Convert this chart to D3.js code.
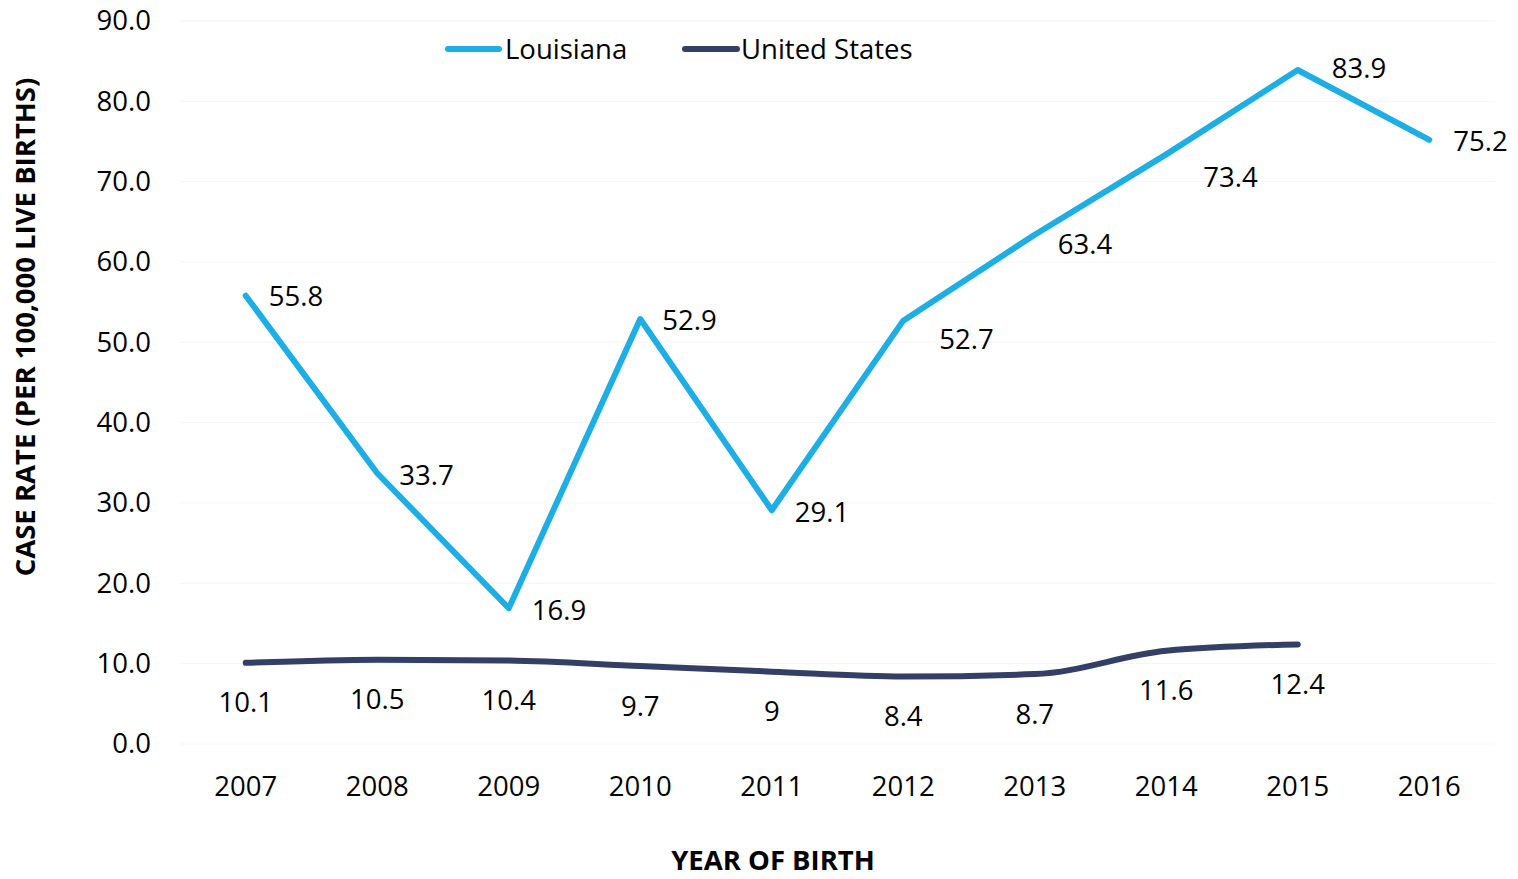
<!DOCTYPE html>
<html>
<head>
<meta charset="utf-8">
<script src="https://cdn.jsdelivr.net/npm/d3@7"></script>
<style>
  html, body { margin: 0; padding: 0; background: #fff; }
  svg text { font-family: "Open Sans", "Noto Sans", sans-serif; fill: #000; }
</style>
</head>
<body>
<svg id="chart" width="1518" height="879"></svg>
<script>
// Congenital syphilis case rates per 100,000 live births
const years = ["2007", "2008", "2009", "2010", "2011", "2012", "2013", "2014", "2015", "2016"];
const louisiana = [55.8, 33.7, 16.9, 52.9, 29.1, 52.7, 63.4, 73.4, 83.9, 75.2];
const unitedStates = [10.1, 10.5, 10.4, 9.7, 9.0, 8.4, 8.7, 11.6, 12.4];
const usLabels = ["10.1", "10.5", "10.4", "9.7", "9", "8.4", "8.7", "11.6", "12.4"];
const yTicks = [0, 10, 20, 30, 40, 50, 60, 70, 80, 90];
const seriesNames = ["Louisiana", "United States"];
const colors = { "Louisiana": "#1eaee3", "United States": "#343f66" };

// Offsets of the Louisiana value labels relative to their points [dx, dy]
const laLabelOffsets = [[23, 1], [22, 2], [23, 2], [22, 1], [23, 2], [36, 19], [23, 10], [37, 23], [34, -2], [24, 1]];

const FS = 27.5;
const svg = d3.select("#chart");
const margin = { left: 180, right: 23, top: 21, bottom: 135 };
const W = 1518, H = 879;

const x = d3.scaleBand().domain(years).range([margin.left, W - margin.right]);
const y = d3.scaleLinear().domain([0, 90]).range([H - margin.bottom, margin.top]);
const cx = d => x(d) + x.bandwidth() / 2;

// Gridlines
svg.append("g")
  .selectAll("line")
  .data(yTicks)
  .join("line")
  .attr("x1", margin.left).attr("x2", W - margin.right)
  .attr("y1", d => y(d)).attr("y2", d => y(d))
  .attr("stroke", "#f4f4f4").attr("stroke-width", 1);

// Y axis labels
const yAxis = d3.axisLeft(y).tickValues(yTicks).tickFormat(d3.format(".1f")).tickSize(0).tickPadding(29);
const gy = svg.append("g").attr("transform", `translate(${margin.left},0)`).call(yAxis);
gy.select(".domain").remove();
gy.selectAll("text").attr("font-size", FS).attr("fill", "#000").style("font-family", "'Open Sans', sans-serif");

// X axis labels
const xAxis = d3.axisBottom(x).tickSize(0).tickPadding(32);
const gx = svg.append("g").attr("transform", `translate(0,${y(0)})`).call(xAxis);
gx.select(".domain").remove();
gx.selectAll("text").attr("font-size", FS).attr("fill", "#000").style("font-family", "'Open Sans', sans-serif");

// Axis titles
svg.append("text")
  .attr("x", 773).attr("y", 870)
  .attr("text-anchor", "middle")
  .attr("font-size", FS).attr("font-weight", "bold")
  .text("YEAR OF BIRTH");

svg.append("text")
  .attr("transform", "translate(35,327) rotate(-90)")
  .attr("text-anchor", "middle")
  .attr("font-size", FS).attr("font-weight", "bold")
  .text("CASE RATE (PER 100,000 LIVE BIRTHS)");

// Lines
const laLine = d3.line().x((d, i) => cx(years[i])).y(d => y(d));
const usLine = d3.line().x((d, i) => cx(years[i])).y(d => y(d)).curve(d3.curveMonotoneX);

svg.append("path")
  .datum(unitedStates)
  .attr("d", usLine)
  .attr("fill", "none")
  .attr("stroke", colors["United States"])
  .attr("stroke-width", 6)
  .attr("stroke-linecap", "round");

svg.append("path")
  .datum(louisiana)
  .attr("d", laLine)
  .attr("fill", "none")
  .attr("stroke", colors["Louisiana"])
  .attr("stroke-width", 6)
  .attr("stroke-linecap", "round")
  .attr("stroke-linejoin", "round");

// Data labels
svg.append("g")
  .selectAll("text")
  .data(louisiana)
  .join("text")
  .attr("x", (d, i) => cx(years[i]) + laLabelOffsets[i][0])
  .attr("y", (d, i) => y(d) + laLabelOffsets[i][1])
  .attr("dy", "0.35em")
  .attr("font-size", FS)
  .text(d => d.toFixed(1));

svg.append("g")
  .selectAll("text")
  .data(unitedStates)
  .join("text")
  .attr("x", (d, i) => cx(years[i]))
  .attr("y", d => y(d) + 40)
  .attr("dy", "0.35em")
  .attr("text-anchor", "middle")
  .attr("font-size", FS)
  .text((d, i) => usLabels[i]);

// Legend
const legendItems = [
  { name: seriesNames[0], x1: 448, x2: 499, tx: 505 },
  { name: seriesNames[1], x1: 685, x2: 737, tx: 741 }
];
const lg = svg.append("g");
legendItems.forEach(it => {
  lg.append("line")
    .attr("x1", it.x1).attr("x2", it.x2).attr("y1", 49).attr("y2", 49)
    .attr("stroke", colors[it.name]).attr("stroke-width", 6).attr("stroke-linecap", "round");
  lg.append("text")
    .attr("x", it.tx).attr("y", 49).attr("dy", "0.35em")
    .attr("font-size", FS)
    .text(it.name);
});
</script>
</body>
</html>
